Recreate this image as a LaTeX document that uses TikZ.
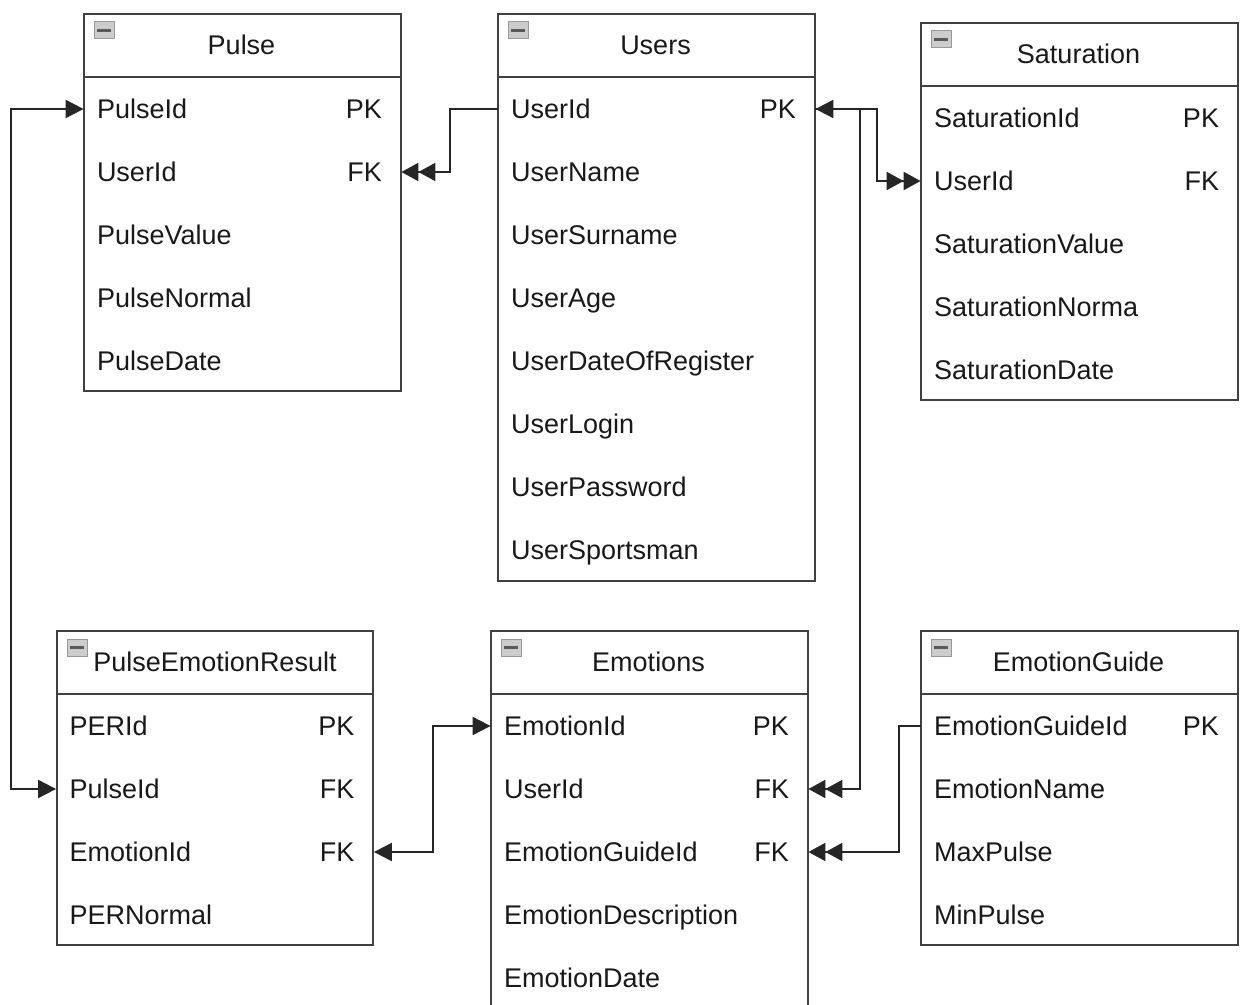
\documentclass[tikz,border=0pt]{standalone}
\usepackage{fontspec}
\setmainfont{Liberation Sans}
\usetikzlibrary{arrows.meta}

\newcommand\rowstrut{\rule[-3.1pt]{0pt}{15.6pt}}

\tikzset{
  tbl/.style={line width=1.2pt, draw=black!75},
  field/.style={minimum width=158.5pt, text width=145.5pt, inner xsep=6.5pt, inner ysep=0pt,
    minimum height=31.5pt, font=\fontsize{13.5}{16}\selectfont, text=black!90},
  title/.style={font=\fontsize{13.5}{16}\selectfont, text=black!90},
  minus/.style={fill=black!20, draw=black!40, line width=0.5pt},
  link/.style={line width=1pt, draw=black!85},
  pk/.style={{Triangle[length=9pt,width=9pt]}-{Triangle[length=9pt,width=9pt]}},
  fk/.style={-{Triangle[length=8.5pt,width=9pt]Triangle[length=8.5pt,width=9pt]}},
}

\begin{document}
\begin{tikzpicture}[x=0.5pt,y=-0.5pt]
  \useasboundingbox[fill=white] (0,0) rectangle (1242,1005);

  % Tables
  \draw[tbl] (84,14) rectangle (401,391) (84,77) -- (401,77);
  \draw[tbl] (498,14) rectangle (815,581) (498,77) -- (815,77);
  \draw[tbl] (921,23) rectangle (1238,400) (921,86) -- (1238,86);
  \draw[tbl] (57,631) rectangle (373,945) (57,694) -- (373,694);
  \draw[tbl] (491,1005) |- (808,631) -- (808,1005) (491,694) -- (808,694);
  \draw[tbl] (921,631) rectangle (1238,945) (921,694) -- (1238,694);

  % Icones
  \foreach \l/\t in {84/14, 498/14, 921/23, 57/631, 491/631, 921/631} {
    \draw[minus] (\l+10,\t+8) rectangle ++(20,17);
    \fill[black!65] (\l+13,\t+15) rectangle ++(14,3);
  }

  % Titres
  \node[title] (pulse) at (241.5,45.5) {\rowstrut Pulse};
  \node[title] (users) at (655.5,45.5) {\rowstrut Users};
  \node[title] (sat) at (1078.5,54.5) {\rowstrut Saturation};
  \node[title] (per) at (215,662.5) {\rowstrut PulseEmotionResult};
  \node[title] (emo) at (648.5,662.5) {\rowstrut Emotions};
  \node[title] (guide) at (1078.5,662.5) {\rowstrut EmotionGuide};

  % Champs
  \foreach \n/\txt/\k [count=\i] in {id/PulseId/PK, user/UserId/FK, value/PulseValue/,
      normal/PulseNormal/, date/PulseDate/}
    \node[field] (pulse-\n) at (242.5,77+63*\i-31) {\rowstrut\txt\hfill\k\hspace*{3pt}};
  \foreach \n/\txt/\k [count=\i] in {id/UserId/PK, name/UserName/, surname/UserSurname/,
      age/UserAge/, reg/UserDateOfRegister/, login/UserLogin/, pass/UserPassword/,
      sport/UserSportsman/}
    \node[field] (users-\n) at (656.5,77+63*\i-31) {\rowstrut\txt\hfill\k\hspace*{3pt}};
  \foreach \n/\txt/\k [count=\i] in {id/SaturationId/PK, user/UserId/FK,
      value/SaturationValue/, normal/SaturationNorma/, date/SaturationDate/}
    \node[field] (sat-\n) at (1079.5,86+63*\i-31) {\rowstrut\txt\hfill\k\hspace*{3pt}};
  \foreach \n/\txt/\k [count=\i] in {id/PERId/PK, pulse/PulseId/FK, emo/EmotionId/FK,
      normal/PERNormal/}
    \node[field] (per-\n) at (215,694+63*\i-31) {\rowstrut\txt\hfill\k\hspace*{3pt}};
  \foreach \n/\txt/\k [count=\i] in {id/EmotionId/PK, user/UserId/FK,
      guide/EmotionGuideId/FK, desc/EmotionDescription/, date/EmotionDate/}
    \node[field] (emo-\n) at (649.5,694+63*\i-31) {\rowstrut\txt\hfill\k\hspace*{3pt}};
  \foreach \n/\txt/\k [count=\i] in {id/EmotionGuideId/PK, name/EmotionName/,
      max/MaxPulse/, min/MinPulse/}
    \node[field] (guide-\n) at (1079.5,694+63*\i-31) {\rowstrut\txt\hfill\k\hspace*{3pt}};

  % Liens
  \draw[link, fk] (users-id.west) -- ++(-48,0) |- (pulse-user.east);
  \draw[link, fk] (users-id.east) -- ++(62,0) |- (sat-user.west);
  \draw[link, pk] (per-pulse.west) -- ++(-45,0) |- (pulse-id.west);
  \draw[link, pk] (per-emo.east) -- ++(59,0) |- (emo-id.west);
  \draw[link, {Triangle[length=9pt,width=9pt]}-{Triangle[length=8.5pt,width=9pt]Triangle[length=8.5pt,width=9pt]}]
    (users-id.east) -- ++(45,0) |- (emo-user.east);
  \draw[link, fk] (guide-id.west) -- ++(-22,0) |- (emo-guide.east);
\end{tikzpicture}
\end{document}
